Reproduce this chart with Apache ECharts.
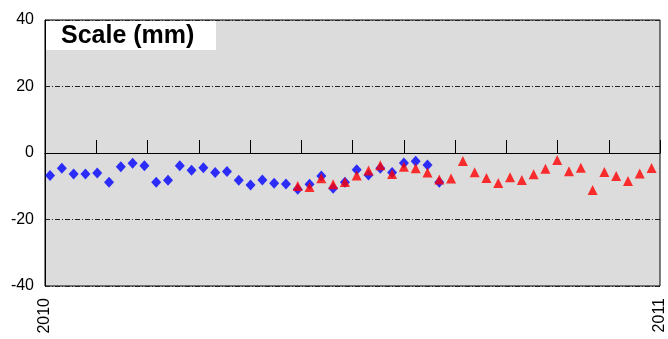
<!DOCTYPE html>
<html>
<head>
<meta charset="utf-8">
<script src="https://cdn.jsdelivr.net/npm/echarts@6/dist/echarts.min.js"></script>
<style>
html,body{margin:0;padding:0;background:#fff;}
#chart{width:668px;height:339px;}
</style>
</head>
<body>
<div id="chart"></div>
<script>
// Weekly series, first week starting 2010-01-04
const startDate = '2010-01-04';
const yearStart = '2010-01-01';
const xTickLabels = ['2010', '2011'];
const yTicks = [-40, -20, 0, 20, 40];
const titleText = 'Scale (mm)';

// Blue diamonds: weeks 1..34
const blueWeekStart = 0;
const blueValues = [
  -6.8, -4.6, -6.3, -6.3, -6.0, -8.8, -4.1, -3.1, -3.8, -8.8,
  -8.2, -3.8, -5.2, -4.4, -5.9, -5.6, -8.2, -9.6, -8.1, -9.1,
  -9.3, -10.9, -9.4, -6.9, -10.6, -8.8, -5.0, -6.6, -4.6, -5.9,
  -3.0, -2.5, -3.6, -8.8
];
// Red triangles: weeks 22..52
const redWeekStart = 21;
const redValues = [
  -9.9, -10.2, -7.6, -9.4, -8.7, -6.8, -5.3, -3.7, -6.3, -4.1,
  -4.6, -5.9, -8.0, -7.7, -2.4, -5.8, -7.5, -9.0, -7.3, -8.1,
  -6.4, -4.7, -2.1, -5.5, -4.4, -11.1, -5.7, -6.9, -8.4, -6.2,
  -4.5
];

const DAY = 86400000;
function weekToX(i) {
  const t = Date.parse(startDate + 'T00:00:00Z') + i * 7 * DAY;
  const t0 = Date.parse(yearStart + 'T00:00:00Z');
  return (t - t0) / (365 * DAY) * 12; // months from year start
}
function build(values, startIdx) {
  return values.map((v, k) => [weekToX(startIdx + k), v]);
}

const chart = echarts.init(document.getElementById('chart'), null, {renderer: 'canvas'});
const FONT = '"Liberation Sans", Arial, Helvetica, sans-serif';
chart.setOption({
  animation: false,
  backgroundColor: '#ffffff',
  grid: {
    left: 45, right: 1, top: 20, bottom: 53,
    show: true, backgroundColor: '#dcdcdc', borderColor: '#000', borderWidth: 1
  },
  xAxis: {
    type: 'value', min: 0, max: 12, interval: 1,
    axisLine: {show: true, lineStyle: {color: '#000', width: 1}},
    axisTick: {show: true, inside: true, length: 13, lineStyle: {color: '#000', width: 1}},
    splitLine: {show: false},
    axisLabel: {
      show: true, rotate: 90, margin: 12, color: '#000', fontSize: 16, fontFamily: FONT,
      showMinLabel: true, showMaxLabel: true,
      formatter: v => (v === 0 ? xTickLabels[0] : (v === 12 ? xTickLabels[1] : ''))
    }
  },
  yAxis: {
    type: 'value', min: yTicks[0], max: yTicks[yTicks.length - 1], interval: 20,
    axisLine: {show: true, lineStyle: {color: '#000', width: 1}},
    axisTick: {show: false},
    splitLine: {show: true, lineStyle: {color: '#222', width: 1, type: [5, 2, 1, 2]}},
    axisLabel: {color: '#000', fontSize: 16, fontFamily: FONT, margin: 11}
  },
  graphic: [
    {type: 'rect', left: 46, top: 21, shape: {width: 170, height: 29}, style: {fill: '#ffffff'}, z: 10},
    {type: 'text', left: 61, top: 24, style: {text: titleText, fill: '#000', font: 'bold 25px ' + FONT}, z: 11}
  ],
  series: [
    {
      type: 'scatter', data: build(blueValues, blueWeekStart),
      symbol: 'diamond', symbolSize: [10, 11],
      itemStyle: {color: '#0000ff'}, z: 3
    },
    {
      type: 'scatter', data: build(redValues, redWeekStart),
      symbol: 'triangle', symbolSize: [10, 10],
      itemStyle: {color: '#ff0000'}, z: 4
    }
  ]
});
</script>
</body>
</html>
